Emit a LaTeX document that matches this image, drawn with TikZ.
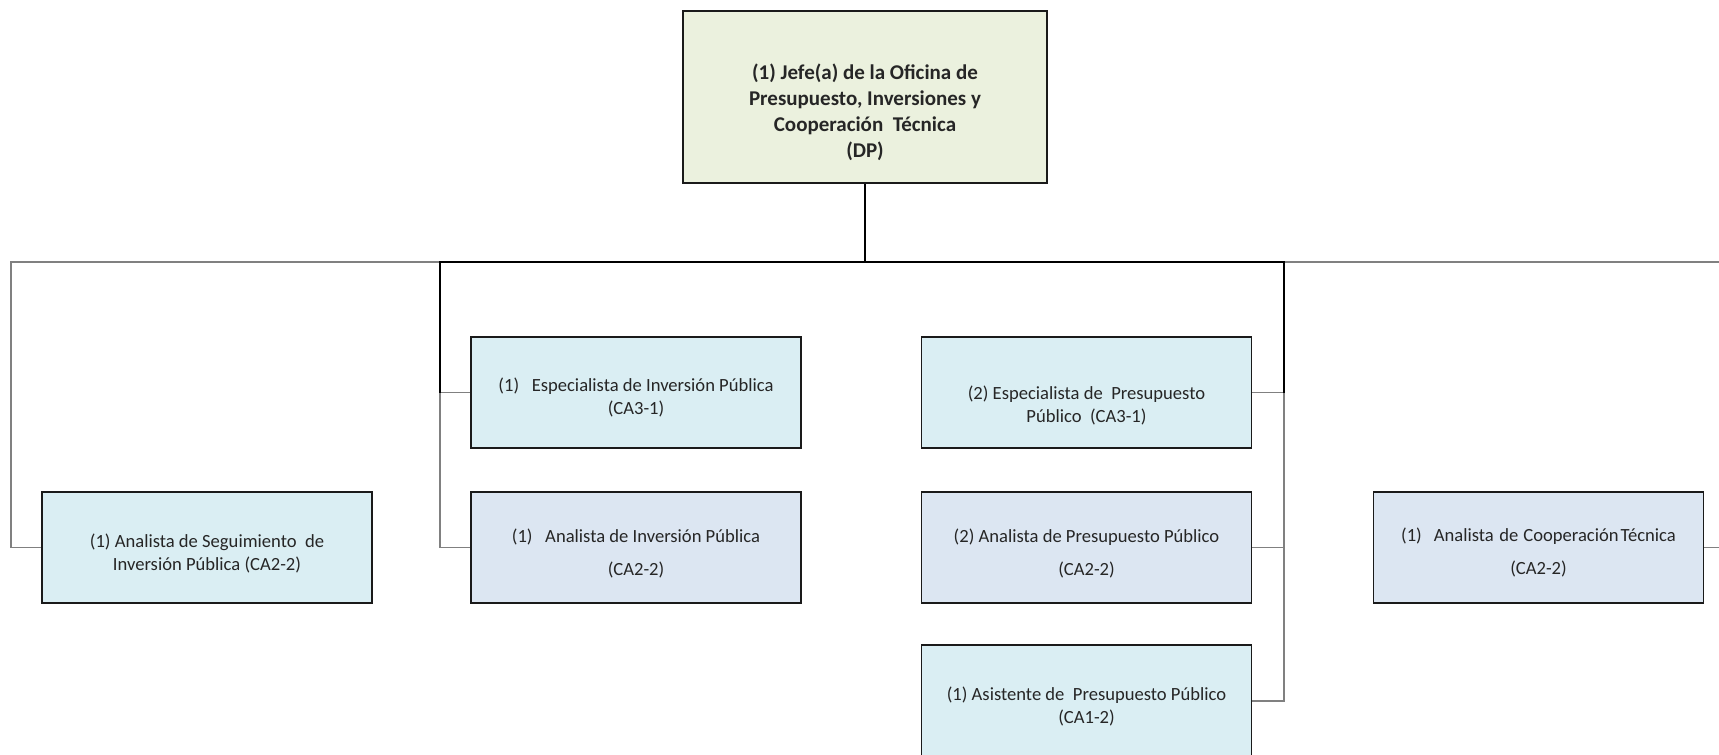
\documentclass[tikz,border=0pt]{standalone}
\usepackage{fontspec}
\setmainfont{Carlito}
\definecolor{jefefill}{HTML}{EBF1DE}
\definecolor{cyanfill}{HTML}{DAEEF3}
\definecolor{bluefill}{HTML}{DCE6F2}
\definecolor{linegray}{HTML}{808080}
\definecolor{boxline}{HTML}{1A1A1A}
\newcommand{\lowered}[2]{\raisebox{-#1}[\height][\depth]{\begin{tabular}{@{}c@{}}#2\end{tabular}}}
\begin{document}
\begin{tikzpicture}[x=1pt,y=-1pt,
  box/.style={draw=boxline,line width=1.6pt,inner sep=0pt,align=center,text=black!85},
  jefebox/.style={box,fill=jefefill,minimum width=364pt,minimum height=172pt,font=\fontsize{21}{26}\selectfont\bfseries},
  cbox/.style={box,fill=cyanfill,minimum width=330pt,minimum height=111pt,font=\fontsize{18.6}{23}\selectfont},
  bbox/.style={box,fill=bluefill,minimum width=330pt,minimum height=111pt,font=\fontsize{18.6}{23}\selectfont},
  outer/.style={draw=linegray,line width=1.1pt},
  inner/.style={draw=black,line width=1.6pt},
  stub/.style={draw=linegray,line width=1.1pt}]
\useasboundingbox[fill=white] (0,0) rectangle (1719,755);
\begin{scope}
\clip (0,0) rectangle (1719,755);
% bus coordinates
\coordinate (busL) at (11,262);
\coordinate (busR) at (1721,262);
\coordinate (inL) at (440,262);
\coordinate (inR) at (1284,262);
% nodes
\node[jefebox] (jefe) at (865,97) {\lowered{16pt}{(1) Jefe(a) de la Oficina de\\Presupuesto, Inversiones y\\Cooperación\ \ Técnica\\(DP)}};
\node[cbox] (seg) at (207,547.5) {\lowered{6.5pt}{(1) Analista de Seguimiento\ \ de\\Inversión Pública (CA2-2)}};
\node[cbox] (ei) at (636,392.5) {\lowered{5.5pt}{(1)\ \ \ Especialista de Inversión Pública\\(CA3-1)}};
\node[bbox] (ai) at (636,547.5) {\lowered{6.5pt}{(1)\ \ \ Analista de Inversión Pública\\[10pt](CA2-2)}};
\node[cbox] (ep) at (1086.5,392.5) {\lowered{14pt}{(2) Especialista de\ \ Presupuesto\\Público\ \ (CA3-1)}};
\node[bbox] (ap) at (1086.5,547.5) {\lowered{6.5pt}{(2) Analista de Presupuesto Público\\[10pt](CA2-2)}};
\node[cbox,minimum height=112pt] (asis) at (1086.5,701) {\lowered{6.5pt}{(1) Asistente de\ \ Presupuesto Público\\(CA1-2)}};
\node[bbox] (coop) at (1538.5,547.5) {\lowered{5.5pt}{(1)\hspace{12pt}Analista\hspace{5.5pt}de\hspace{5pt}Cooperación\hspace{2pt}Técnica\\[10pt](CA2-2)}};
% connectors
\draw[outer] (seg.west) -| (busL) -- (busR) |- (coop.east);
\draw[stub] (inL |- ei.west) |- (ai.west);
\draw[stub] (inR |- ep.east) |- (asis.east);
\draw[stub] (ei.west) -- (ei.west -| inL);
\draw[stub] (ep.east) -- (ep.east -| inR);
\draw[stub] (ap.east) -- (ap.east -| inR);
\draw[inner] (ei.west -| inL) -- (inL) -- (inR) -- (ep.east -| inR);
\draw[inner] (jefe.south) -- (jefe.south |- inL);
\end{scope}
\end{tikzpicture}
\end{document}
